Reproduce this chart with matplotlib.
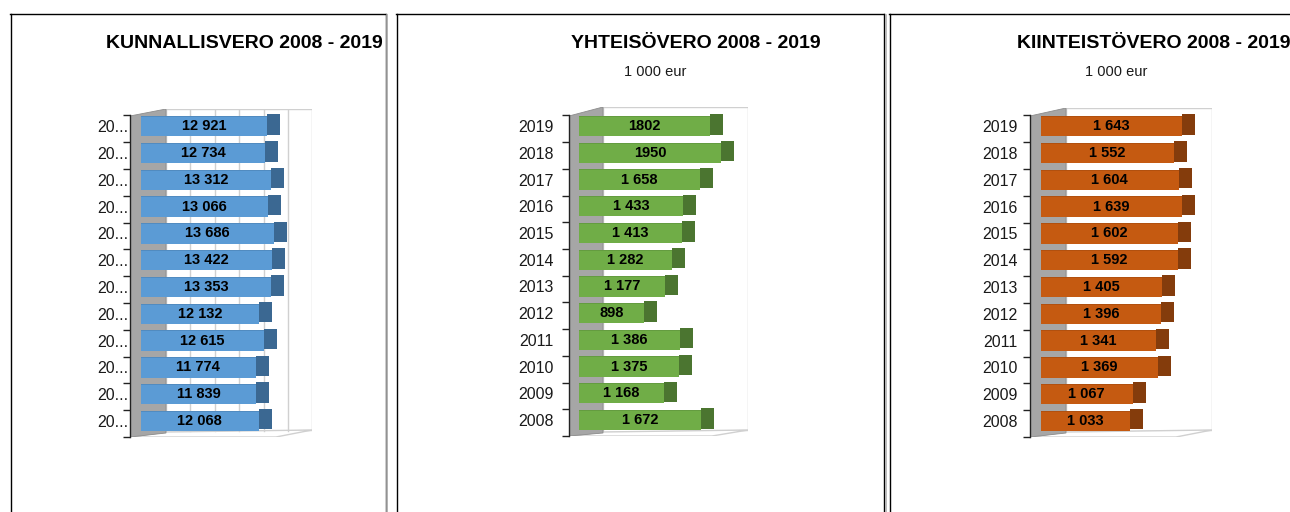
import matplotlib
matplotlib.use("Agg")
import matplotlib.pyplot as plt
from matplotlib.patches import Polygon
from matplotlib.lines import Line2D

plt.rcParams['font.family'] = ['Liberation Sans', 'DejaVu Sans']

# ---------------- data ----------------
years = [2008, 2009, 2010, 2011, 2012, 2013, 2014, 2015, 2016, 2017, 2018, 2019]
year_labels_trunc = ["20..."] * 12
year_labels = [str(y) for y in years]

kunnallisvero = [12068, 11839, 11774, 12615, 12132, 13353, 13422, 13686, 13066, 13312, 12734, 12921]
yhteisovero = [1672, 1168, 1375, 1386, 898, 1177, 1282, 1413, 1433, 1658, 1950, 1802]
kiinteistovero = [1033, 1067, 1369, 1341, 1396, 1405, 1592, 1602, 1639, 1604, 1552, 1643]

titles = ["KUNNALLISVERO 2008 - 2019", "YHTEISÖVERO 2008 - 2019", "KIINTEISTÖVERO 2008 - 2019"]
subtitles = ["", "1 000 eur", "1 000 eur"]
no_space_values = {1802, 1950}

W, H = 1290, 512
fig = plt.figure(figsize=(W / 100, H / 100), dpi=100)
fig.patch.set_facecolor("white")


def fx(px):
    return px / W


def fy(py):
    return 1 - py / H


def fmt(v):
    if v in no_space_values:
        return str(v)
    return f"{v:,}".replace(",", " ")


def vline(x, y0, y1, color="black", lw=1.0):
    fig.add_artist(Line2D([fx(x), fx(x)], [fy(y0), fy(y1)], color=color, lw=lw, transform=fig.transFigure))


def hline(y, x0, x1, color="black", lw=1.0):
    fig.add_artist(Line2D([fx(x0), fx(x1)], [fy(y), fy(y)], color=color, lw=lw, transform=fig.transFigure))


# panel borders
for (x0, x1) in [(10, 385), (396, 884), (889, 1300)]:
    hline(13.5, x0, x1)
    vline(x0 + 0.5, 13.5, 520)
    vline(x1 + 0.5, 13.5, 520)
    vline(x1 + 2, 15, 520, color="#b0b0b0", lw=1.2)

# panel geometry (pixels)
panels = [
    dict(vals=kunnallisvero, labels=year_labels_trunc, front="#5B9BD5", side="#3B6892",
         axis_x=130, back_x=166, right=312, top=109, bottom=437, bar0=141, scale=0.00975,
         grid_step=2500, ngrid=6, title_x=244, sub_x=None, label_pad=1.5),
    dict(vals=yhteisovero, labels=year_labels, front="#70AD47", side="#4B7530",
         axis_x=569, back_x=603, right=748, top=107, bottom=436, bar0=579, scale=0.0727,
         grid_step=None, ngrid=0, title_x=696, sub_x=655, label_pad=11),
    dict(vals=kiinteistovero, labels=year_labels, front="#C55A11", side="#843C0C",
         axis_x=1030, back_x=1066, right=1212, top=108, bottom=437, bar0=1041, scale=0.0858,
         grid_step=None, ngrid=0, title_x=1154, sub_x=1116, label_pad=9),
]

c_center_2008 = 421.0
spacing = 26.8
bar_h = 0.76
wall_color = "#A6A6A6"
line_gray = "#D0D0D0"

for i, p in enumerate(panels):
    ax_w = p["right"] - p["axis_x"]
    ax_hh = p["bottom"] - p["top"]
    ax = fig.add_axes([fx(p["axis_x"]), fy(p["bottom"]), ax_w / W, ax_hh / H])
    ax.set_facecolor("none")
    sc = p["scale"]
    xmin = (p["axis_x"] - p["bar0"]) / sc
    xmax = (p["right"] - p["bar0"]) / sc
    ax.set_xlim(xmin, xmax)
    ymin = (c_center_2008 - p["bottom"]) / spacing
    ymax = (c_center_2008 - p["top"]) / spacing
    ax.set_ylim(ymin, ymax)

    def axx(px):
        return (px - p["axis_x"]) / ax_w

    def axy(py):
        return (p["bottom"] - py) / ax_hh

    # back wall
    ax.add_patch(Polygon([(axx(p["back_x"]), axy(432)), (axx(p["back_x"]), 1.0),
                          (1.0, 1.0), (1.0, axy(430))],
                         closed=True, facecolor="white", edgecolor=line_gray, lw=1.0,
                         transform=ax.transAxes, zorder=0))
    # floor
    ax.add_patch(Polygon([(0, 0), (axx(p["right"] - 36), 0), (1.0, axy(430)),
                          (axx(p["back_x"]), axy(432))],
                         closed=True, facecolor="white", edgecolor=line_gray, lw=1.0,
                         transform=ax.transAxes, zorder=0.5))
    # gridlines on back wall
    if p["grid_step"]:
        off = (p["back_x"] - p["bar0"]) / sc
        for k in range(1, p["ngrid"]):
            gx = off + k * p["grid_step"]
            ax.axvline(gx, ymin=axy(431), ymax=1.0, color=line_gray, lw=1.0, zorder=0.6)
    # side wall (gray)
    ax.add_patch(Polygon([(0, 0), (0, axy(116)), (axx(p["back_x"]), 1.0),
                          (axx(p["back_x"]), axy(433))],
                         closed=True, facecolor=wall_color, edgecolor="#8c8c8c", lw=0.6,
                         transform=ax.transAxes, zorder=1))

    ypos = list(range(len(years)))
    vals = p["vals"]
    depth = 13 / sc
    # front faces
    ax.barh(ypos, vals, left=0, height=bar_h, color=p["front"], edgecolor="none", zorder=3)
    # thin top edges
    ax.barh([y + bar_h / 2 - 0.02 for y in ypos], vals, left=0, height=0.04,
            color=p["side"], alpha=0.3, edgecolor="none", zorder=3.5)
    # side faces
    ax.barh([y + 0.06 for y in ypos], [depth] * len(vals), left=vals, height=bar_h,
            color=p["side"], edgecolor="none", zorder=2.5)

    for y, v in zip(ypos, vals):
        ax.text(v / 2, y, fmt(v), ha="center", va="center", fontsize=10.5,
                fontweight="bold", color="black", zorder=5)

    # axes styling
    for s in ["top", "right", "bottom"]:
        ax.spines[s].set_visible(False)
    ax.spines["left"].set_bounds(-0.6, 11.4)
    ax.spines["left"].set_color("#222222")
    ax.spines["left"].set_linewidth(1.0)
    ax.spines["left"].set_zorder(4)
    ax.set_xticks([])
    ax.set_yticks(ypos)
    ax.set_yticklabels(p["labels"], fontsize=11.5, color="#1a1a1a")
    ax.tick_params(axis="y", which="major", length=0, pad=p["label_pad"])
    ax.set_yticks([k + 0.4 for k in range(-1, 12)], minor=True)
    ax.tick_params(axis="y", which="minor", length=5, width=1.0, color="#222222")

    # titles
    fig.text(fx(p["title_x"]), fy(43), titles[i], ha="center", va="center",
             fontsize=14, fontweight="bold", color="black")
    if p["sub_x"]:
        fig.text(fx(p["sub_x"]), fy(72), subtitles[i], ha="center", va="center",
                 fontsize=10.5, color="#1a1a1a")

fig.savefig("out.png", dpi=100)
